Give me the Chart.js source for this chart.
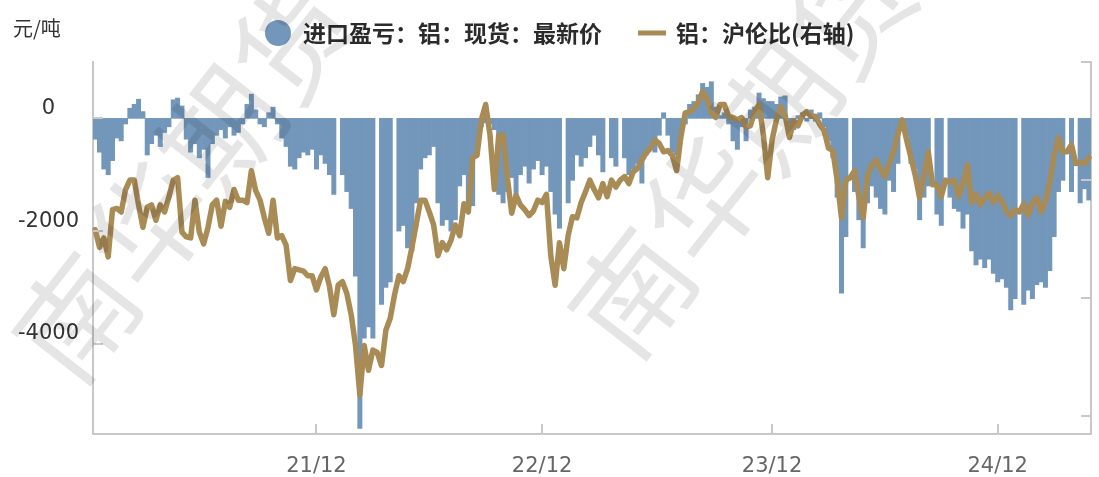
<!DOCTYPE html>
<html>
<head>
<meta charset="utf-8">
<script src="https://cdn.jsdelivr.net/npm/chart.js@4.4.1/dist/chart.umd.min.js"></script>
<style>
  html, body { margin: 0; padding: 0; background: #fff; }
</style>
</head>
<body>
<canvas id="alChart" width="1099" height="477"></canvas>
<script>
// 周度数据，从 2020-12-14 那一周开始
const startWeek = '2020-12-14';

// 进口盈亏:铝:现货:最新价 (元/吨)，null = 假期无数据
const profitLoss = [
  -370, -600, -900, -1000, -750, -350, -400, -100, 180, 250,
  340, 120, -650, -450, -300, -500, -250, -150, 330, 360,
  220, -370, -600, -450, -700, -550, -1050, -450, -300, -200,
  -350, -150, -300, -250, -100, 250, 430, 150, -100, -150,
  100, 200, -100, -350, -500, -850, -900, -700, -600, -650,
  -550, -900, -650, -800, -1000, -1350, null, -1000, -1300, -1600,
  -2800, -5500, -3900, -3700, -3900, null, -3300, -3000, -2900, null,
  -2000, -1900, -2300, -2350, -1500, -900, -700, -650, -500, -1500,
  -1900, -1800, -2000, -1800, -1200, -1000, -1500, -1550, -600, -150,
  -80, -100, -200, -1350, -1500, -1300, -1050, -1450, -1000, -850,
  -1150, -900, -750, -1000, -850, -1300, -1700, -1950, null, -1500,
  -1100, -650, -850, -700, -500, -300, -650, -950, null, -700,
  -850, null, -700, -1000, -900, -800, -1150, -650, -550, -600,
  -300, 100, -300, -600, -650, -300, -100, 250, 300, 420,
  620, 550, 650, 200, 50, 100, -100, -400, -550, -150,
  -400, 150, 200, 450, 350, 300, 300, 250, 380, 400,
  -100, -200, 50, 100, -50, 150, -50, 100, -150, -400,
  -700, -1400, -3100, -2100, null, -1300, -1800, -2300, -1500, -1200,
  -1400, -1600, -1700, -1100, -1300, -800, -100, -300, -800, -900,
  -1800, -1400, -1200, null, -1700, -1900, null, -1400, -1600, -1650,
  -1950, -1700, -2350, -2600, -2500, -2650, -2500, -2750, -2900, -2850,
  -3000, -3400, -3200, null, -3300, -3050, -3200, -2950, -2900, -3000,
  -2700, -2100, -1300, -1100, null, -1300, null, -1500, -1250, -1450
];

// 铝：沪伦比 (右轴)
const shLdRatio = [
  7.58, 7.43, 7.51, 7.35, 7.75, 7.76, 7.73, 7.92, 8.00, 8.00,
  7.79, 7.60, 7.77, 7.79, 7.66, 7.79, 7.73, 7.86, 8.00, 8.02,
  7.56, 7.52, 7.51, 7.83, 7.56, 7.46, 7.60, 7.79, 7.83, 7.61,
  7.82, 7.77, 7.92, 7.83, 7.83, 7.81, 8.08, 7.91, 7.83, 7.68,
  7.55, 7.83, 7.51, 7.53, 7.45, 7.15, 7.25, 7.24, 7.23, 7.19,
  7.19, 7.07, 7.18, 7.25, 7.10, 6.86, 7.11, 7.14, 7.04, 6.86,
  6.60, 6.18, 6.60, 6.39, 6.56, 6.54, 6.43, 6.73, 6.83, 7.03,
  7.19, 7.14, 7.25, 7.43, 7.63, 7.83, 7.83, 7.73, 7.62, 7.36,
  7.47, 7.41, 7.49, 7.62, 7.53, 7.80, 7.73, 8.19, 8.21, 8.51,
  8.64, 8.38, 7.92, 8.38, 8.38, 8.02, 7.72, 7.87, 7.79, 7.75,
  7.70, 7.74, 7.83, 7.81, 7.88, 7.36, 7.11, 7.47, 7.25, 7.53,
  7.69, 7.68, 7.81, 7.90, 8.00, 7.92, 7.85, 7.97, 7.86, 8.00,
  7.94, 8.00, 8.03, 7.97, 8.07, 8.10, 8.17, 8.23, 8.27, 8.34,
  8.31, 8.24, 8.25, 8.21, 8.08, 8.37, 8.57, 8.58, 8.61, 8.66,
  8.75, 8.69, 8.57, 8.53, 8.64, 8.64, 8.54, 8.53, 8.51, 8.53,
  8.45, 8.46, 8.58, 8.64, 8.38, 8.02, 8.34, 8.51, 8.62, 8.55,
  8.36, 8.50, 8.46, 8.55, 8.58, 8.54, 8.54, 8.47, 8.42, 8.27,
  8.25, 8.00, 7.68, 8.00, 8.02, 8.08, 7.86, 7.68, 8.04, 8.13,
  8.17, 8.09, 8.03, 8.14, 8.24, 8.39, 8.51, 8.34, 8.19, 8.04,
  7.85, 8.04, 8.24, 7.96, 7.96, 7.86, 8.00, 7.98, 8.00, 7.86,
  7.97, 8.13, 7.81, 7.88, 7.79, 7.85, 7.89, 7.81, 7.87, 7.82,
  7.73, 7.70, 7.75, 7.73, 7.80, 7.70, 7.81, 7.85, 7.73, 7.82,
  7.98, 8.21, 8.36, 8.24, 8.24, 8.30, 8.14, 8.15, 8.14, 8.19
];

const xTickLabels = ['21/12', '22/12', '23/12', '24/12'];
const leftTicks = [0, -2000, -4000];
const rightTicks = [6, 7, 8, 9];
const seriesNames = ['进口盈亏：铝：现货：最新价', '铝：沪伦比(右轴)'];
const unitLabel = '元/吨';
const watermark = '南华期货';

const barColor = '#7397bb';
const lineColor = '#a88b55';
const axisColor = '#c8c8c8';

// 周标签
const weeks = [];
const d0 = new Date(startWeek + 'T00:00:00Z');
for (let i = 0; i < profitLoss.length; i++) {
  weeks.push(new Date(d0.getTime() + i * 7 * 86400000).toISOString().slice(0, 10));
}
// 每年 12 月第一个完整周作刻度
const xTickIdx = xTickLabels.map(lab => {
  const yy = '20' + lab.slice(0, 2);
  return weeks.findIndex(w => w.startsWith(yy + '-12') && +w.slice(8) >= 5);
});

// 刻度线画在轴内侧
const innerTicks = {
  id: 'innerTicks',
  afterDatasetsDraw(chart) {
    const { ctx, chartArea: a, scales } = chart;
    ctx.save();
    ctx.strokeStyle = axisColor;
    ctx.lineWidth = 2;
    ctx.beginPath();
    scales.y.ticks.forEach(t => {
      const py = Math.round(scales.y.getPixelForValue(t.value));
      ctx.moveTo(a.left, py); ctx.lineTo(a.left + 10, py);
    });
    scales.y1.ticks.forEach(t => {
      const py = Math.round(scales.y1.getPixelForValue(t.value));
      ctx.moveTo(a.right, py); ctx.lineTo(a.right - 10, py);
    });
    scales.x.ticks.forEach(t => {
      const px = Math.round(scales.x.getPixelForValue(t.value));
      ctx.moveTo(px, a.bottom); ctx.lineTo(px, a.bottom - 10);
    });
    ctx.stroke();
    ctx.restore();
  }
};

// 顶部图例 + 单位
const topLegend = {
  id: 'topLegend',
  afterDraw(chart) {
    const ctx = chart.ctx;
    ctx.save();
    ctx.fillStyle = '#333';
    ctx.font = '20px "Noto Sans CJK SC"';
    ctx.textBaseline = 'middle';
    ctx.fillText(unitLabel, 13, 28);

    const cy = 33;
    let x = 265;
    ctx.fillStyle = barColor;
    ctx.beginPath();
    ctx.arc(x + 13, cy, 13, 0, Math.PI * 2);
    ctx.fill();
    x += 38;
    ctx.font = 'bold 23px "Noto Sans CJK SC"';
    ctx.fillStyle = '#2b2b2b';
    ctx.fillText(seriesNames[0], x, cy);
    x += ctx.measureText(seriesNames[0]).width + 36;
    ctx.strokeStyle = lineColor;
    ctx.lineWidth = 5;
    ctx.beginPath();
    ctx.moveTo(x, cy); ctx.lineTo(x + 28, cy);
    ctx.stroke();
    x += 38;
    ctx.fillText(seriesNames[1], x, cy);
    ctx.restore();
  }
};

// 水印
const waterMark = {
  id: 'waterMark',
  afterDraw(chart) {
    const ctx = chart.ctx;
    const spots = [[185, 178], [741, 153], [1302, 133]];
    ctx.save();
    ctx.fillStyle = 'rgba(0,0,0,0.1)';
    ctx.font = '118px "Noto Sans CJK SC"';
    ctx.textAlign = 'center';
    ctx.textBaseline = 'middle';
    spots.forEach(([cx, cy]) => {
      ctx.save();
      ctx.translate(cx, cy);
      ctx.rotate(-52 * Math.PI / 180);
      ctx.fillText(watermark, 0, 0);
      ctx.restore();
    });
    ctx.restore();
  }
};

const ctx = document.getElementById('alChart').getContext('2d');
const alChart = new Chart(ctx, {
  type: 'bar',
  data: {
    labels: weeks,
    datasets: [{
      type: 'line',
      label: seriesNames[1],
      data: shLdRatio,
      yAxisID: 'y1',
      borderColor: lineColor,
      borderWidth: 5.5,
      pointRadius: 0,
      tension: 0,
      borderJoinStyle: 'round',
      borderCapStyle: 'round',
      order: 0
    }, {
      type: 'bar',
      label: seriesNames[0],
      data: profitLoss,
      yAxisID: 'y',
      backgroundColor: barColor,
      barPercentage: 1,
      categoryPercentage: 1,
      order: 1
    }]
  },
  options: {
    responsive: false,
    animation: false,
    devicePixelRatio: 1,
    layout: { padding: { top: 62, left: 0, right: 0, bottom: 0 } },
    plugins: {
      legend: { display: false },
      tooltip: { enabled: false }
    },
    scales: {
      x: {
        offset: true,
        grid: { display: false },
        border: { display: true, color: axisColor, width: 2 },
        afterBuildTicks: s => { s.ticks = xTickIdx.map(i => ({ value: i })); },
        afterFit: s => { s.height = 43; },
        ticks: {
          autoSkip: false,
          maxRotation: 0,
          padding: 12,
          color: '#666',
          font: { size: 21, family: 'DejaVu Sans' },
          callback: v => xTickLabels[xTickIdx.indexOf(v)]
        }
      },
      y: {
        position: 'left',
        min: -5600,
        max: 1000,
        grid: { display: false },
        border: { display: true, color: axisColor, width: 2 },
        afterBuildTicks: s => { s.ticks = leftTicks.map(v => ({ value: v })); },
        afterFit: s => { s.width = 93; },
        ticks: {
          crossAlign: 'center',
          padding: 6,
          labelOffset: -10,
          color: '#333',
          font: { size: 21, family: 'DejaVu Sans' },
          callback: v => String(v)
        }
      },
      y1: {
        position: 'right',
        min: 5.85,
        max: 9,
        grid: { display: false },
        border: { display: true, color: axisColor, width: 2 },
        afterBuildTicks: s => { s.ticks = rightTicks.map(v => ({ value: v })); },
        afterFit: s => { s.width = 8; },
        ticks: { display: false }
      }
    }
  },
  plugins: [innerTicks, topLegend, waterMark]
});
</script>
</body>
</html>
